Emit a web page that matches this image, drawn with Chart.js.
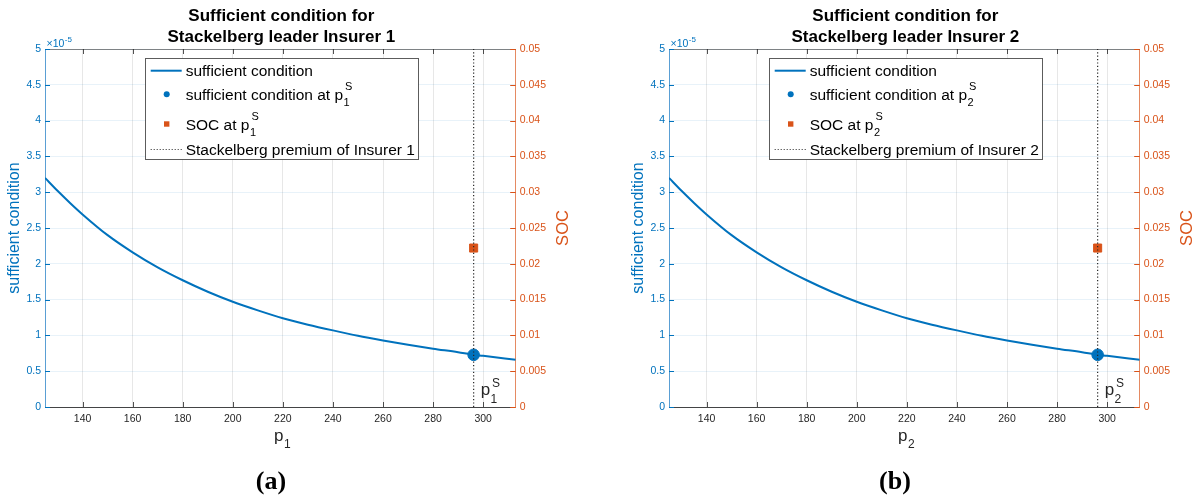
<!DOCTYPE html>
<html>
<head>
<title>Sufficient condition for Stackelberg leader</title>
<script src="https://cdn.jsdelivr.net/npm/chart.js@4.4.1/dist/chart.umd.min.js"></script>
<style>
  body { margin: 0; background: #fff; overflow: hidden; width: 1201px; height: 496px; position: relative; }
  .panel { position: absolute; top: 0; width: 600px; height: 496px; }
</style>
</head>
<body>
<div class="panel" style="left:0px"><canvas id="c1" width="600" height="496"></canvas></div>
<div class="panel" style="left:624px"><canvas id="c2" width="600" height="496"></canvas></div>

<script>
// premium grid p (x) and the curve (same in both panels)
var premiumX = [125, 130, 135, 140, 150, 160, 170, 180, 190, 200, 210, 220, 230, 240, 250, 260, 270, 280, 290, 296, 300, 313];
var suffCond1 = [3.20e-5, 3.02e-5, 2.85e-5, 2.69e-5, 2.40e-5, 2.16e-5, 1.95e-5, 1.77e-5, 1.61e-5, 1.47e-5, 1.35e-5,
                 1.24e-5, 1.15e-5, 1.07e-5, 0.995e-5, 0.93e-5, 0.87e-5, 0.815e-5, 0.765e-5, 0.73e-5, 0.715e-5, 0.66e-5];
var suffCond2 = [3.20e-5, 3.02e-5, 2.85e-5, 2.69e-5, 2.40e-5, 2.16e-5, 1.95e-5, 1.77e-5, 1.61e-5, 1.47e-5, 1.35e-5,
                 1.24e-5, 1.15e-5, 1.07e-5, 0.995e-5, 0.93e-5, 0.87e-5, 0.815e-5, 0.765e-5, 0.73e-5, 0.715e-5, 0.66e-5];

// Stackelberg premium and the values at it
var stackPremium = [296.2, 296.2];
var suffAtPremium = [0.729e-5, 0.729e-5];
var socAtPremium = [0.0222, 0.0222];

var xTicks = [140, 160, 180, 200, 220, 240, 260, 280, 300];
var yLeftTicks = [0, 0.5e-5, 1e-5, 1.5e-5, 2e-5, 2.5e-5, 3e-5, 3.5e-5, 4e-5, 4.5e-5, 5e-5];
var yRightTicks = [0, 0.005, 0.01, 0.015, 0.02, 0.025, 0.03, 0.035, 0.04, 0.045, 0.05];

var BLUE = '#0072BD';
var ORANGE = '#D95319';
var DARK = '#262626';
var FONT = '"Liberation Sans", Arial, sans-serif';

Chart.defaults.font.family = FONT;

function font(size, bold) {
  return (bold ? 'bold ' : '') + size + 'px ' + FONT;
}

// p with stacked superscript S and subscript n, baseline at y
function drawPS(ctx, x, y, n, size, sSize, supOff, subOff) {
  ctx.textAlign = 'left';
  ctx.textBaseline = 'alphabetic';
  ctx.font = font(size);
  ctx.fillText('p', x, y);
  var w = ctx.measureText('p').width;
  ctx.font = font(sSize);
  ctx.fillText(n, x + w + 0.5, y + subOff);
  ctx.fillText('S', x + w + 2, y + supOff);
}

var decor = {
  id: 'decor',
  afterDraw: function (chart, args, opts) {
    var ctx = chart.ctx;
    var a = chart.chartArea;
    var sx = chart.scales.x, sy = chart.scales.y, sy1 = chart.scales.y1;
    var n = opts.n;
    ctx.save();

    // top box edge
    ctx.strokeStyle = 'rgba(38,38,38,0.55)';
    ctx.lineWidth = 1;
    ctx.beginPath();
    ctx.moveTo(a.left, Math.round(a.top) + 0.5);
    ctx.lineTo(a.right, Math.round(a.top) + 0.5);
    ctx.stroke();

    // inward tick marks
    ctx.strokeStyle = 'rgba(38,38,38,0.8)';
    sx.ticks.forEach(function (t) {
      var px = Math.round(sx.getPixelForValue(t.value)) + 0.5;
      ctx.beginPath();
      ctx.moveTo(px, a.bottom); ctx.lineTo(px, a.bottom - 5);
      ctx.moveTo(px, a.top); ctx.lineTo(px, a.top + 5);
      ctx.stroke();
    });
    ctx.strokeStyle = BLUE;
    sy.ticks.forEach(function (t) {
      var py = Math.round(sy.getPixelForValue(t.value)) + 0.5;
      ctx.beginPath(); ctx.moveTo(a.left, py); ctx.lineTo(a.left + 5, py); ctx.stroke();
    });
    ctx.strokeStyle = ORANGE;
    sy1.ticks.forEach(function (t) {
      var py = Math.round(sy1.getPixelForValue(t.value)) + 0.5;
      ctx.beginPath(); ctx.moveTo(a.right, py); ctx.lineTo(a.right - 5.5, py); ctx.stroke();
    });

    // title
    var cx = (a.left + a.right) / 2 + 1;
    ctx.fillStyle = '#000';
    ctx.font = font(17, true);
    ctx.textAlign = 'center';
    ctx.textBaseline = 'middle';
    ctx.fillText('Sufficient condition for', cx, 16);
    ctx.fillText('Stackelberg leader Insurer ' + n, cx, 37.5);

    // exponent label
    ctx.fillStyle = BLUE;
    ctx.textAlign = 'left';
    ctx.textBaseline = 'alphabetic';
    ctx.font = font(10.5);
    ctx.fillText('\u00d710', a.left + 1.5, 47);
    var ew = ctx.measureText('\u00d710').width;
    ctx.font = font(8);
    ctx.fillText('-5', a.left + 2 + ew, 41.5);

    // axis titles
    ctx.save();
    ctx.translate(15, (a.top + a.bottom) / 2);
    ctx.rotate(-Math.PI / 2);
    ctx.textAlign = 'center';
    ctx.textBaseline = 'middle';
    ctx.font = font(16);
    ctx.fillStyle = BLUE;
    ctx.fillText('sufficient condition', 0, 0);
    ctx.restore();

    ctx.save();
    ctx.translate(a.right + 47.5, (a.top + a.bottom) / 2);
    ctx.rotate(-Math.PI / 2);
    ctx.textAlign = 'center';
    ctx.textBaseline = 'middle';
    ctx.font = font(16.5);
    ctx.fillStyle = ORANGE;
    ctx.fillText('SOC', 0, 0);
    ctx.restore();

    // x title p_n
    ctx.fillStyle = DARK;
    ctx.textAlign = 'left';
    ctx.textBaseline = 'alphabetic';
    ctx.font = font(17);
    ctx.fillText('p', 274, 441);
    var pw = ctx.measureText('p').width;
    ctx.font = font(12);
    ctx.fillText(n, 274 + pw + 0.5, 448);

    // annotation next to the premium line
    var lx = sx.getPixelForValue(stackPremium[n - 1]);
    ctx.fillStyle = DARK;
    drawPS(ctx, lx + 7, 394.5, n, 17, 12, -7.5, 8);

    // legend
    var L = { x: a.left + 100.5, y: 58.5, w: 273, h: 101 };
    ctx.fillStyle = '#fff';
    ctx.fillRect(L.x, L.y, L.w, L.h);
    ctx.strokeStyle = 'rgba(38,38,38,0.75)';
    ctx.lineWidth = 1;
    ctx.strokeRect(L.x, L.y, L.w, L.h);
    var sx0 = a.left + 105.7, sx1 = a.left + 136.7, sc = a.left + 121.7, tx = a.left + 140.7;
    // row 1
    ctx.strokeStyle = BLUE; ctx.lineWidth = 2;
    ctx.beginPath(); ctx.moveTo(sx0, 70.7); ctx.lineTo(sx1, 70.7); ctx.stroke();
    // row 2
    ctx.fillStyle = BLUE;
    ctx.beginPath(); ctx.arc(sc, 94.3, 3, 0, Math.PI * 2); ctx.fill();
    // row 3
    ctx.fillStyle = ORANGE;
    ctx.fillRect(sc - 2.7, 124 - 2.7, 5.4, 5.4);
    // row 4
    ctx.strokeStyle = DARK; ctx.lineWidth = 1; ctx.setLineDash([1, 2]);
    ctx.beginPath(); ctx.moveTo(sx0, 149.5); ctx.lineTo(sx1, 149.5); ctx.stroke();
    ctx.setLineDash([]);

    ctx.fillStyle = '#000';
    ctx.textAlign = 'left';
    ctx.textBaseline = 'alphabetic';
    ctx.font = font(15.5);
    ctx.fillText('sufficient condition', tx, 76.2);
    var t2 = 'sufficient condition at ';
    ctx.fillText(t2, tx, 99.8);
    var w2 = ctx.measureText(t2).width;
    drawPS(ctx, tx + w2, 99.8, n, 15.5, 11, -9.5, 6);
    ctx.font = font(15.5);
    var t3 = 'SOC at ';
    ctx.fillText(t3, tx, 129.5);
    var w3 = ctx.measureText(t3).width;
    drawPS(ctx, tx + w3, 129.5, n, 15.5, 11, -9.5, 6);
    ctx.font = font(15.5);
    ctx.fillText('Stackelberg premium of Insurer ' + n, tx, 154.5);

    // panel tag
    ctx.fillStyle = '#000';
    ctx.textAlign = 'center';
    ctx.textBaseline = 'middle';
    ctx.font = 'bold 26px "Liberation Serif", "Times New Roman", serif';
    ctx.fillText(opts.tag, 271, 482);

    ctx.restore();
  }
};

function makeChart(id, n, curve, tag) {
  var curveData = premiumX.map(function (p, i) { return { x: p, y: curve[i] }; });
  return new Chart(document.getElementById(id), {
    type: 'line',
    data: {
      datasets: [
        {
          data: [{ x: stackPremium[n - 1], y: 0 }, { x: stackPremium[n - 1], y: 5e-5 }],
          borderColor: DARK, borderWidth: 1.2, borderDash: [1.2, 2.2],
          pointRadius: 0, yAxisID: 'y'
        },
        {
          type: 'scatter',
          data: [{ x: stackPremium[n - 1], y: suffAtPremium[n - 1] }],
          backgroundColor: BLUE, borderColor: BLUE, pointRadius: 5.8, yAxisID: 'y'
        },
        {
          type: 'scatter',
          data: [{ x: stackPremium[n - 1], y: socAtPremium[n - 1] }],
          backgroundColor: ORANGE, borderColor: ORANGE, pointStyle: 'rect', pointRadius: 5.7, yAxisID: 'y1'
        },
        {
          data: curveData,
          borderColor: BLUE, borderWidth: 2, pointRadius: 0,
          cubicInterpolationMode: 'monotone', yAxisID: 'y'
        }
      ]
    },
    options: {
      responsive: false,
      animation: false,
      layout: { padding: { top: 49, left: 0, right: 0, bottom: 0 } },
      plugins: {
        legend: { display: false },
        tooltip: { enabled: false },
        decor: { n: n, tag: tag }
      },
      scales: {
        x: {
          type: 'linear', min: 125, max: 313,
          afterFit: function (s) { s.height = 89; },
          afterBuildTicks: function (s) { s.ticks = xTicks.map(function (v) { return { value: v }; }); },
          grid: { color: 'rgba(38,38,38,0.11)', drawTicks: false },
          border: { color: 'rgba(38,38,38,0.85)' },
          ticks: { font: { size: 10.5 }, color: DARK, padding: 6, maxRotation: 0 }
        },
        y: {
          position: 'left', min: 0, max: 5e-5,
          afterFit: function (s) { s.width = 45; },
          afterBuildTicks: function (s) { s.ticks = yLeftTicks.map(function (v) { return { value: v }; }); },
          grid: { color: 'rgba(0,114,189,0.09)', drawTicks: false },
          border: { color: '#5a9fd4' },
          ticks: {
            font: { size: 10.5 }, color: BLUE, padding: 4,
            callback: function (v) { return String(+(v * 1e5).toFixed(2)); }
          }
        },
        y1: {
          position: 'right', min: 0, max: 0.05,
          afterFit: function (s) { s.width = 84.3; },
          afterBuildTicks: function (s) { s.ticks = yRightTicks.map(function (v) { return { value: v }; }); },
          grid: { drawOnChartArea: false, drawTicks: false },
          border: { color: '#e58a62' },
          ticks: {
            font: { size: 10.5 }, color: ORANGE, padding: 4,
            callback: function (v) { return String(+v.toFixed(3)); }
          }
        }
      }
    },
    plugins: [decor]
  });
}

makeChart('c1', 1, suffCond1, '(a)');
makeChart('c2', 2, suffCond2, '(b)');
</script>
</body>
</html>
